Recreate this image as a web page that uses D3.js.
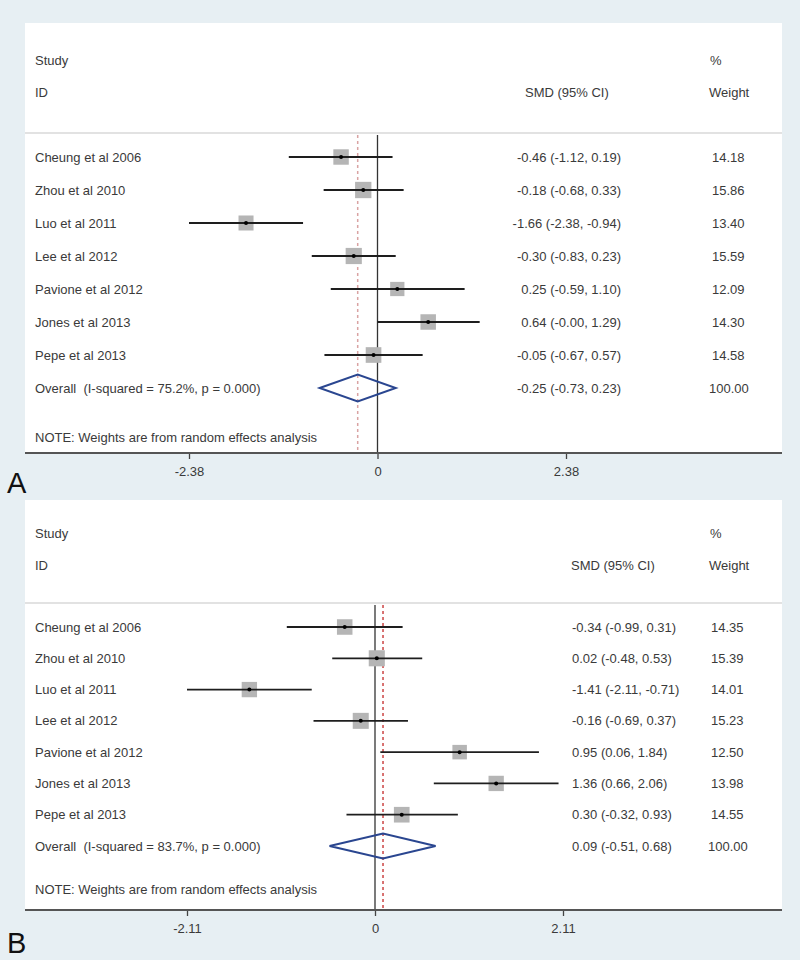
<!DOCTYPE html>
<html><head><meta charset="utf-8">
<script src="https://cdn.jsdelivr.net/npm/d3@7"></script>
<style>body{margin:0;background:#e7eff3;}svg{display:block;}text{white-space:pre;}</style>
</head><body>
<script>
const studies = ["Cheung et al 2006","Zhou et al 2010","Luo et al 2011","Lee et al 2012","Pavione et al 2012","Jones et al 2013","Pepe et al 2013"];
// Panel A
const aSmd = [-0.46,-0.18,-1.66,-0.30,0.25,0.64,-0.05];
const aLo  = [-1.12,-0.68,-2.38,-0.83,-0.59,-0.00,-0.67];
const aHi  = [0.19,0.33,-0.94,0.23,1.10,1.29,0.57];
const aW   = [14.18,15.86,13.40,15.59,12.09,14.30,14.58];
const aCI  = ["-0.46 (-1.12, 0.19)","-0.18 (-0.68, 0.33)","-1.66 (-2.38, -0.94)","-0.30 (-0.83, 0.23)","0.25 (-0.59, 1.10)","0.64 (-0.00, 1.29)","-0.05 (-0.67, 0.57)"];
const aWtxt = ["14.18","15.86","13.40","15.59","12.09","14.30","14.58"];
const aOverall = {smd:-0.25, lo:-0.73, hi:0.23, label:"Overall  (I-squared = 75.2%, p = 0.000)", ci:"-0.25 (-0.73, 0.23)", w:"100.00"};
const aTicks = [-2.38, 0, 2.38];
const aTickLabels = ["-2.38","0","2.38"];
// Panel B
const bSmd = [-0.34,0.02,-1.41,-0.16,0.95,1.36,0.30];
const bLo  = [-0.99,-0.48,-2.11,-0.69,0.06,0.66,-0.32];
const bHi  = [0.31,0.53,-0.71,0.37,1.84,2.06,0.93];
const bW   = [14.35,15.39,14.01,15.23,12.50,13.98,14.55];
const bCI  = ["-0.34 (-0.99, 0.31)","0.02 (-0.48, 0.53)","-1.41 (-2.11, -0.71)","-0.16 (-0.69, 0.37)","0.95 (0.06, 1.84)","1.36 (0.66, 2.06)","0.30 (-0.32, 0.93)"];
const bWtxt = ["14.35","15.39","14.01","15.23","12.50","13.98","14.55"];
const bOverall = {smd:0.09, lo:-0.51, hi:0.68, label:"Overall  (I-squared = 83.7%, p = 0.000)", ci:"0.09 (-0.51, 0.68)", w:"100.00"};
const bTicks = [-2.11, 0, 2.11];
const bTickLabels = ["-2.11","0","2.11"];

const W = 800, H = 960;
const svg = d3.select("body").append("svg").attr("width", W).attr("height", H);
svg.append("rect").attr("width", W).attr("height", H).attr("fill", "#e7eff3");
const FONT = "'Liberation Sans', Arial, sans-serif";

function panel(cfg) {
  const g = svg.append("g");
  const boxL = 25, boxR = 782;
  g.append("rect").attr("x", boxL).attr("y", cfg.top).attr("width", boxR - boxL).attr("height", cfg.axisY - cfg.top).attr("fill", "#ffffff");
  const txt = (x, y, s, anchor) => g.append("text").attr("x", x).attr("y", y).attr("dy", "0.35em")
      .attr("font-family", FONT).attr("font-size", 13).attr("fill", "#3a3a3a")
      .attr("xml:space", "preserve")
      .attr("text-anchor", anchor || "start").text(s);
  // header
  txt(35, cfg.studyY, "Study");
  txt(35, cfg.idY, "ID");
  txt(cfg.hdrX, cfg.idY, "SMD (95% CI)");
  txt(710, cfg.studyY, "%");
  txt(709, cfg.idY, "Weight");
  g.append("line").attr("x1", boxL).attr("x2", boxR).attr("y1", cfg.sepY).attr("y2", cfg.sepY)
    .attr("stroke", "#e2e2e2").attr("stroke-width", 2);

  const x = d3.scaleLinear().domain([cfg.ticks[0], cfg.ticks[2]]).range(cfg.xRange);
  const n = cfg.smd.length;
  const y = d3.scalePoint().domain(d3.range(n + 1)).range([cfg.firstY, cfg.overallY]);

  // reference lines
  g.append("line").attr("x1", x(0)).attr("x2", x(0)).attr("y1", cfg.sepY + 2).attr("y2", cfg.axisY)
    .attr("stroke", "#333").attr("stroke-width", 1.3);
  g.append("line").attr("x1", x(cfg.overall.smd)).attr("x2", x(cfg.overall.smd)).attr("y1", cfg.sepY + 2).attr("y2", cfg.axisY)
    .attr("stroke", cfg.dashColor).attr("stroke-width", 1.5).attr("stroke-dasharray", "3,3");

  const rows = d3.range(n);
  const side = i => 4.1 * Math.sqrt(cfg.w[i]);
  g.selectAll("rect.box").data(rows).join("rect").attr("class", "box")
    .attr("x", i => x(cfg.smd[i]) - side(i) / 2)
    .attr("y", i => y(i) - side(i) / 2)
    .attr("width", side)
    .attr("height", side)
    .attr("fill", "#b5b5b5");
  g.selectAll("line.ci").data(rows).join("line").attr("class", "ci")
    .attr("x1", i => x(cfg.lo[i])).attr("x2", i => x(cfg.hi[i]))
    .attr("y1", i => y(i)).attr("y2", i => y(i))
    .attr("stroke", "#1e1e1e").attr("stroke-width", 1.8);
  g.selectAll("circle.pt").data(rows).join("circle").attr("class", "pt")
    .attr("cx", i => x(cfg.smd[i])).attr("cy", i => y(i)).attr("r", 2).attr("fill", "#000");
  rows.forEach(i => {
    txt(35, y(i), studies[i]);
    txt(cfg.ciX, y(i), cfg.ci[i], cfg.ciAnchor);
    txt(cfg.wX, y(i), cfg.wtxt[i]);
  });
  const o = cfg.overall, oy = y(n), hh = cfg.diamondH / 2;
  g.append("path").attr("d", `M${x(o.lo)},${oy} L${x(o.smd)},${oy - hh} L${x(o.hi)},${oy} L${x(o.smd)},${oy + hh} Z`)
    .attr("fill", "none").attr("stroke", "#2a4690").attr("stroke-width", 2);
  txt(35, oy, o.label);
  txt(cfg.ciX, oy, o.ci, cfg.ciAnchor);
  txt(cfg.wX - 3, oy, o.w);
  txt(35, cfg.noteY, "NOTE: Weights are from random effects analysis");

  const axis = g.append("g").attr("transform", `translate(0,${cfg.axisY})`)
    .call(d3.axisBottom(x).tickValues(cfg.ticks).tickFormat((d, i) => cfg.tickLabels[i]).tickSize(6).tickPadding(8));
  axis.select(".domain").remove();
  axis.selectAll(".tick line").attr("stroke", "#444").attr("stroke-width", 1.3);
  axis.selectAll(".tick text").attr("font-family", FONT).attr("font-size", 13).attr("fill", "#3a3a3a");
  g.append("line").attr("x1", boxL).attr("x2", boxR).attr("y1", cfg.axisY).attr("y2", cfg.axisY)
    .attr("stroke", "#555").attr("stroke-width", 2);

  g.append("text").attr("x", 7).attr("y", cfg.letterY).attr("font-family", FONT).attr("font-size", 29)
    .attr("fill", "#111").text(cfg.letter);
}

panel({top:23, studyY:60, idY:92, sepY:133, firstY:157, overallY:388, noteY:437, axisY:453,
  letterY:493, letter:"A", hdrX:525, ciX:621, ciAnchor:"end", wX:712,
  ticks:aTicks, tickLabels:aTickLabels, xRange:[189,566], dashColor:"#d9a3a3", diamondH:27,
  smd:aSmd, lo:aLo, hi:aHi, w:aW, ci:aCI, wtxt:aWtxt, overall:aOverall});
panel({top:500, studyY:533, idY:565, sepY:603, firstY:627, overallY:846, noteY:889, axisY:910,
  letterY:953, letter:"B", hdrX:571, ciX:572, ciAnchor:"start", wX:711,
  ticks:bTicks, tickLabels:bTickLabels, xRange:[187,563], dashColor:"#cc4444", diamondH:25,
  smd:bSmd, lo:bLo, hi:bHi, w:bW, ci:bCI, wtxt:bWtxt, overall:bOverall});
</script>
</body></html>
